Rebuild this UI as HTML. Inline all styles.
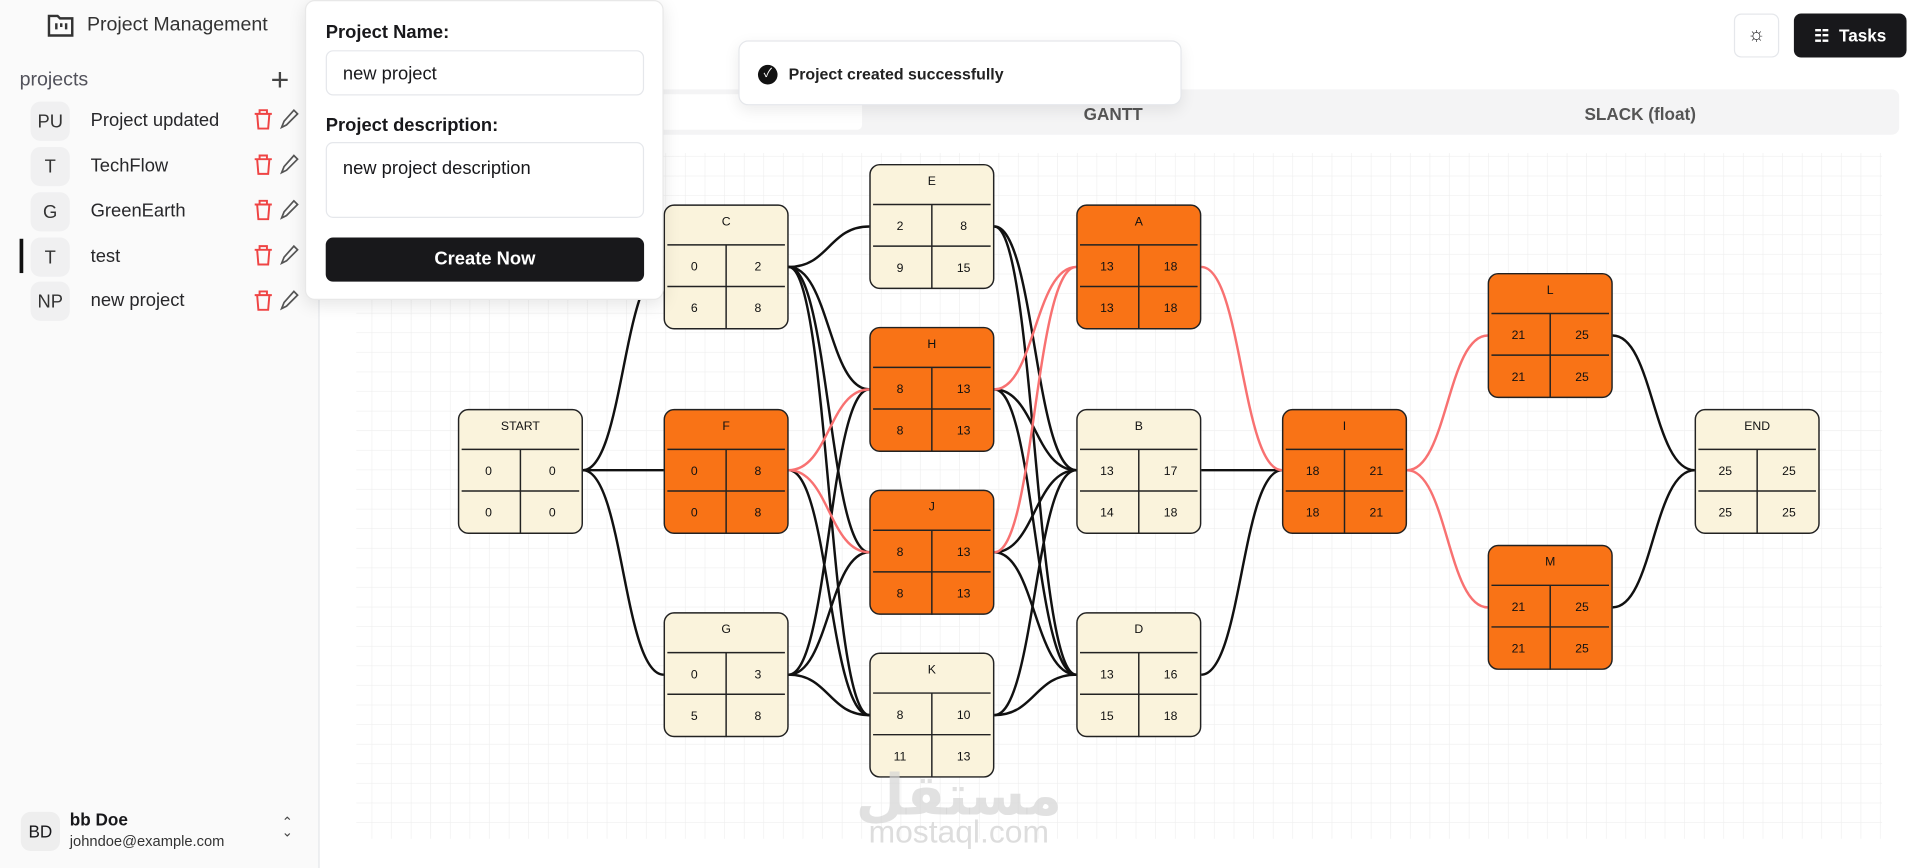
<!DOCTYPE html>
<html><head><meta charset="utf-8"><style>
*{box-sizing:border-box;margin:0;padding:0}
html,body{width:1920px;height:868px;overflow:hidden;background:#fff;font-family:"Liberation Sans","Noto Sans CJK SC",sans-serif;color:#18181b}
#w{position:absolute;left:0;top:0;width:1568px;height:709px;transform:scale(1.2245);transform-origin:0 0}
.sb{position:absolute;left:0;top:0;width:261px;height:709px;background:#fafafa;border-right:1px solid #e5e7eb}
.abs{position:absolute}
.av{position:absolute;left:25px;width:32px;height:32px;border-radius:8px;background:#f0f0f1;font-size:15px;color:#333;display:flex;align-items:center;justify-content:center}
.it{position:absolute;left:74px;font-size:15px;color:#27272a}
.ic{position:absolute;left:206px;font-size:15px}
</style></head><body><div id="w">
<div class="sb">
 <svg class="abs" style="left:38px;top:10px" width="24" height="22" viewBox="0 0 24 22"><path d="M2 3h7l2 2h10v14H2z" fill="none" stroke="#333" stroke-width="2"/><path d="M8 9v5M12 9v3M16 9v5" stroke="#333" stroke-width="2"/></svg>
 <div class="abs" style="left:71px;top:12px;font-size:16px;color:#333">Project Management</div>
 <div class="abs" style="left:16px;top:57px;font-size:16px;color:#52525b">projects</div>
 <div class="abs" style="left:221px;top:50px;font-size:26px;font-weight:300;color:#444">+</div>
 <div class="av" style="top:83px">PU</div><div class="it" style="top:90px">Project updated</div>
 <div class="av" style="top:120px">T</div><div class="it" style="top:127px">TechFlow</div>
 <div class="av" style="top:157px">G</div><div class="it" style="top:164px">GreenEarth</div>
 <div class="abs" style="left:16px;top:195px;width:3px;height:28px;background:#111"></div>
 <div class="av" style="top:194px">T</div><div class="it" style="top:201px">test</div>
 <div class="av" style="top:230px">NP</div><div class="it" style="top:237px">new project</div>
 <svg class="abs" style="left:205px;top:88px" width="40" height="170">
  <g fill="none" stroke="#ef4444" stroke-width="1.6">
   <path d="M3 5h14M7 5V2h6v3M5 5l1 12h8l1-12"/><path d="M3 42h14M7 42v-3h6v3M5 42l1 12h8l1-12"/><path d="M3 79h14M7 79v-3h6v3M5 79l1 12h8l1-12"/><path d="M3 116h14M7 116v-3h6v3M5 116l1 12h8l1-12"/><path d="M3 153h14M7 153v-3h6v3M5 153l1 12h8l1-12"/>
  </g>
  <g fill="none" stroke="#555" stroke-width="1.4">
   <path d="M25 16l2-5 8-9 3 3-9 9z"/><path d="M25 53l2-5 8-9 3 3-9 9z"/><path d="M25 90l2-5 8-9 3 3-9 9z"/><path d="M25 127l2-5 8-9 3 3-9 9z"/><path d="M25 164l2-5 8-9 3 3-9 9z"/>
  </g>
 </svg>
 <div class="abs" style="left:17px;top:663px;width:32px;height:32px;border-radius:8px;background:#eee;font-size:14px;display:flex;align-items:center;justify-content:center">BD</div>
 <div class="abs" style="left:57px;top:661px;font-size:14px;font-weight:bold">bb Doe</div>
 <div class="abs" style="left:57px;top:680px;font-size:12px;color:#333">johndoe@example.com</div>
 <div class="abs" style="left:230px;top:668px;font-size:11px;color:#444;line-height:8px">⌃<br>⌄</div>
</div>

<div class="abs" style="left:530px;top:73px;width:1021px;height:37px;background:#f4f4f5;border-radius:6px"></div>
<div class="abs" style="left:534px;top:77px;width:170px;height:29px;background:#fff;border-radius:4px"></div>
<div class="abs" style="left:885px;top:85px;font-size:14px;font-weight:bold;color:#555">GANTT</div>
<div class="abs" style="left:1294px;top:85px;font-size:14px;font-weight:bold;color:#555">SLACK (float)</div>

<div class="abs" style="left:1416px;top:11px;width:37px;height:36px;border:1px solid #e5e7eb;border-radius:6px;display:flex;align-items:center;justify-content:center;font-size:16px">☼</div>
<div class="abs" style="left:1465px;top:11px;width:92px;height:36px;background:#18181b;border-radius:6px;color:#fff;font-size:14px;font-weight:bold;display:flex;align-items:center;justify-content:center">☷&nbsp; Tasks</div>

<svg class="abs" style="left:0;top:0" width="1568" height="709">
 <defs><pattern id="g" width="16" height="16" patternUnits="userSpaceOnUse"><path d="M16 0V16H0" fill="none" stroke="#eeeeee" stroke-width="1"/></pattern></defs>
 <rect x="291" y="125" width="1246" height="560" fill="url(#g)"/>
 <g fill="none" stroke-width="2">
  <g stroke="#111">
   <path d="M476 384C509 384 509 218 542 218"/><path d="M476 384H542"/><path d="M476 384C509 384 509 551 542 551"/>
   <path d="M644 218C677 218 677 185 710 185"/><path d="M644 218C677 218 677 318 710 318"/><path d="M644 218C677 218 677 451 710 451"/><path d="M644 218C677 218 677 584 710 584"/>
   <path d="M644 384C677 384 677 584 710 584"/>
   <path d="M644 551C677 551 677 318 710 318"/><path d="M644 551C677 551 677 451 710 451"/><path d="M644 551C677 551 677 584 710 584"/>
   <path d="M812 185C845 185 845 384 879 384"/><path d="M812 185C845 185 845 551 879 551"/>
   <path d="M812 318C845 318 845 384 879 384"/><path d="M812 318C845 318 845 551 879 551"/>
   <path d="M812 451C845 451 845 384 879 384"/><path d="M812 451C845 451 845 551 879 551"/>
   <path d="M812 584C845 584 845 384 879 384"/><path d="M812 584C845 584 845 551 879 551"/>
   <path d="M981 384H1047"/><path d="M981 551C1014 551 1014 384 1047 384"/>
   <path d="M1317 274C1350 274 1350 384 1384 384"/><path d="M1317 496C1350 496 1350 384 1384 384"/>
  </g>
  <g stroke="#f87171">
   <path d="M644 384C677 384 677 318 710 318"/><path d="M644 384C677 384 677 451 710 451"/>
   <path d="M812 318C845 318 845 218 879 218"/><path d="M812 451C845 451 845 218 879 218"/>
   <path d="M981 218C1014 218 1014 384 1047 384"/>
   <path d="M1149 384C1182 384 1182 274 1215 274"/><path d="M1149 384C1182 384 1182 496 1215 496"/>
  </g>
 </g>
 <g font-family="Liberation Sans, sans-serif" font-size="10" text-anchor="middle" fill="#111" stroke-width="1.2">
 <!-- nodes -->
 <g transform="translate(374,334)"><rect x=".5" y=".5" width="101" height="101" rx="8" fill="#faf3dc" stroke="#222"/><path d="M3 33H99M3 67H99M51 33V102" stroke="#222"/><text x="51" y="17">START</text><text x="25" y="54">0</text><text x="77" y="54">0</text><text x="25" y="88">0</text><text x="77" y="88">0</text></g>
 <g transform="translate(542,167)"><rect x=".5" y=".5" width="101" height="101" rx="8" fill="#faf3dc" stroke="#222"/><path d="M3 33H99M3 67H99M51 33V102" stroke="#222"/><text x="51" y="17">C</text><text x="25" y="54">0</text><text x="77" y="54">2</text><text x="25" y="88">6</text><text x="77" y="88">8</text></g>
 <g transform="translate(542,334)"><rect x=".5" y=".5" width="101" height="101" rx="8" fill="#f97316" stroke="#222"/><path d="M3 33H99M3 67H99M51 33V102" stroke="#222"/><text x="51" y="17">F</text><text x="25" y="54">0</text><text x="77" y="54">8</text><text x="25" y="88">0</text><text x="77" y="88">8</text></g>
 <g transform="translate(542,500)"><rect x=".5" y=".5" width="101" height="101" rx="8" fill="#faf3dc" stroke="#222"/><path d="M3 33H99M3 67H99M51 33V102" stroke="#222"/><text x="51" y="17">G</text><text x="25" y="54">0</text><text x="77" y="54">3</text><text x="25" y="88">5</text><text x="77" y="88">8</text></g>
 <g transform="translate(710,134)"><rect x=".5" y=".5" width="101" height="101" rx="8" fill="#faf3dc" stroke="#222"/><path d="M3 33H99M3 67H99M51 33V102" stroke="#222"/><text x="51" y="17">E</text><text x="25" y="54">2</text><text x="77" y="54">8</text><text x="25" y="88">9</text><text x="77" y="88">15</text></g>
 <g transform="translate(710,267)"><rect x=".5" y=".5" width="101" height="101" rx="8" fill="#f97316" stroke="#222"/><path d="M3 33H99M3 67H99M51 33V102" stroke="#222"/><text x="51" y="17">H</text><text x="25" y="54">8</text><text x="77" y="54">13</text><text x="25" y="88">8</text><text x="77" y="88">13</text></g>
 <g transform="translate(710,400)"><rect x=".5" y=".5" width="101" height="101" rx="8" fill="#f97316" stroke="#222"/><path d="M3 33H99M3 67H99M51 33V102" stroke="#222"/><text x="51" y="17">J</text><text x="25" y="54">8</text><text x="77" y="54">13</text><text x="25" y="88">8</text><text x="77" y="88">13</text></g>
 <g transform="translate(710,533)"><rect x=".5" y=".5" width="101" height="101" rx="8" fill="#faf3dc" stroke="#222"/><path d="M3 33H99M3 67H99M51 33V102" stroke="#222"/><text x="51" y="17">K</text><text x="25" y="54">8</text><text x="77" y="54">10</text><text x="25" y="88">11</text><text x="77" y="88">13</text></g>
 <g transform="translate(879,167)"><rect x=".5" y=".5" width="101" height="101" rx="8" fill="#f97316" stroke="#222"/><path d="M3 33H99M3 67H99M51 33V102" stroke="#222"/><text x="51" y="17">A</text><text x="25" y="54">13</text><text x="77" y="54">18</text><text x="25" y="88">13</text><text x="77" y="88">18</text></g>
 <g transform="translate(879,334)"><rect x=".5" y=".5" width="101" height="101" rx="8" fill="#faf3dc" stroke="#222"/><path d="M3 33H99M3 67H99M51 33V102" stroke="#222"/><text x="51" y="17">B</text><text x="25" y="54">13</text><text x="77" y="54">17</text><text x="25" y="88">14</text><text x="77" y="88">18</text></g>
 <g transform="translate(879,500)"><rect x=".5" y=".5" width="101" height="101" rx="8" fill="#faf3dc" stroke="#222"/><path d="M3 33H99M3 67H99M51 33V102" stroke="#222"/><text x="51" y="17">D</text><text x="25" y="54">13</text><text x="77" y="54">16</text><text x="25" y="88">15</text><text x="77" y="88">18</text></g>
 <g transform="translate(1047,334)"><rect x=".5" y=".5" width="101" height="101" rx="8" fill="#f97316" stroke="#222"/><path d="M3 33H99M3 67H99M51 33V102" stroke="#222"/><text x="51" y="17">I</text><text x="25" y="54">18</text><text x="77" y="54">21</text><text x="25" y="88">18</text><text x="77" y="88">21</text></g>
 <g transform="translate(1215,223)"><rect x=".5" y=".5" width="101" height="101" rx="8" fill="#f97316" stroke="#222"/><path d="M3 33H99M3 67H99M51 33V102" stroke="#222"/><text x="51" y="17">L</text><text x="25" y="54">21</text><text x="77" y="54">25</text><text x="25" y="88">21</text><text x="77" y="88">25</text></g>
 <g transform="translate(1215,445)"><rect x=".5" y=".5" width="101" height="101" rx="8" fill="#f97316" stroke="#222"/><path d="M3 33H99M3 67H99M51 33V102" stroke="#222"/><text x="51" y="17">M</text><text x="25" y="54">21</text><text x="77" y="54">25</text><text x="25" y="88">21</text><text x="77" y="88">25</text></g>
 <g transform="translate(1384,334)"><rect x=".5" y=".5" width="101" height="101" rx="8" fill="#faf3dc" stroke="#222"/><path d="M3 33H99M3 67H99M51 33V102" stroke="#222"/><text x="51" y="17">END</text><text x="25" y="54">25</text><text x="77" y="54">25</text><text x="25" y="88">25</text><text x="77" y="88">25</text></g>
 </g>
 <text x="783" y="665" font-family="DejaVu Sans, sans-serif" font-size="46" font-weight="bold" fill="#d4d4d4" fill-opacity=".7" text-anchor="middle">مستقل</text>
 <text x="783" y="688" font-family="Liberation Sans, sans-serif" font-size="26" fill="#d4d4d4" fill-opacity=".8" text-anchor="middle">mostaql.com</text>
</svg>

<div class="abs" style="left:603px;top:33px;width:362px;height:53px;background:#fff;border:1px solid #e5e7eb;border-radius:8px;box-shadow:0 4px 12px rgba(0,0,0,.08)">
 <div class="abs" style="left:15px;top:19px;width:16px;height:16px;border-radius:50%;background:#111;color:#fff;font-size:10px;text-align:center;line-height:16px">✓</div>
 <div class="abs" style="left:40px;top:19px;font-size:13px;font-weight:bold;color:#222">Project created successfully</div>
</div>

<div class="abs" style="left:249px;top:0;width:293px;height:245px;background:#fff;border:1px solid #e8e8e8;border-radius:8px;box-shadow:0 4px 14px rgba(0,0,0,.1)">
 <div class="abs" style="left:16px;top:17px;font-size:15px;font-weight:bold">Project Name:</div>
 <div class="abs" style="left:16px;top:40px;width:260px;height:37px;border:1px solid #e5e7eb;border-radius:6px;padding:10px 13px;font-size:15px">new project</div>
 <div class="abs" style="left:16px;top:93px;font-size:15px;font-weight:bold">Project description:</div>
 <div class="abs" style="left:16px;top:115px;width:260px;height:62px;border:1px solid #e5e7eb;border-radius:6px;padding:12px 13px;font-size:15px">new project description</div>
 <div class="abs" style="left:16px;top:193px;width:260px;height:36px;background:#18181b;border-radius:6px;color:#fff;font-size:15px;font-weight:bold;text-align:center;line-height:36px">Create Now</div>
</div>
</div></body></html>
